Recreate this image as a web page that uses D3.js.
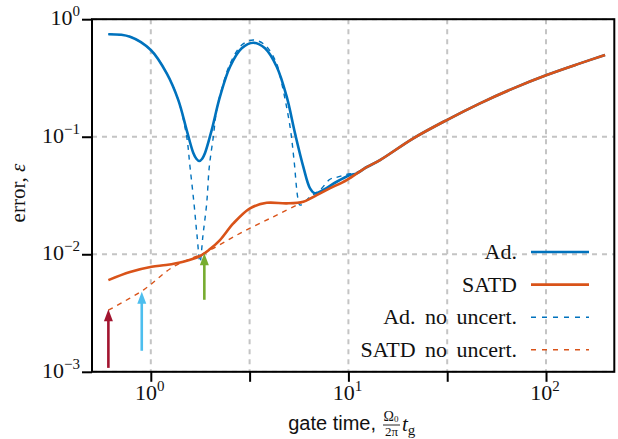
<!DOCTYPE html>
<html>
<head>
<meta charset="utf-8">
<script src="https://cdn.jsdelivr.net/npm/d3@7"></script>
<style>
  body { margin: 0; background: #fff; }
  svg { display: block; }
</style>
</head>
<body>
<div id="chart"></div>
<script>
// values (log-log axes)
const tailTime  = [14.45, 21.3, 31.45, 46.35, 68.3, 100.8, 148.6, 198.9];
const tailError = [0.0633, 0.0969, 0.1387, 0.1924, 0.258, 0.335, 0.421, 0.496];

const adTime  = [0.61, 0.785, 1.0, 1.204, 1.378, 1.519, 1.641, 1.70, 1.76, 1.82, 1.881, 2.033, 2.239, 2.517, 2.884, 3.302, 3.784, 4.337, 4.872, 5.368, 5.913, 6.395, 6.776, 7.464, 8.727, 10.19, 11.02, 12.13];
const adError = [0.744, 0.710, 0.547, 0.346, 0.205, 0.114, 0.0727, 0.0650, 0.0621, 0.0650, 0.0727, 0.114, 0.219, 0.394, 0.565, 0.631, 0.565, 0.394, 0.219, 0.1069, 0.0555, 0.0364, 0.033, 0.0352, 0.0414, 0.0472, 0.0488, 0.0540];

const satdTime  = [0.61, 0.785, 1.01, 1.194, 1.46, 1.774, 1.993, 2.239, 2.616, 3.177, 3.86, 4.872, 5.913, 6.913, 8.0, 9.8, 12.13];
const satdError = [0.00603, 0.00706, 0.00783, 0.00809, 0.00863, 0.00966, 0.01107, 0.0132, 0.0183, 0.0246, 0.0274, 0.0271, 0.028, 0.0319, 0.0362, 0.0428, 0.0540];

const adNoTime  = [0.61, 0.785, 1.0, 1.204, 1.378, 1.519, 1.579, 1.654, 1.713, 1.774, 1.837, 1.918, 1.977, 2.072, 2.155, 2.293, 2.517, 2.884, 3.302, 3.784, 4.301, 4.597, 5.065, 5.306, 5.55, 5.689, 6.395, 7.183, 8.07, 8.654, 9.80, 11.02, 12.13];
const adNoError = [0.744, 0.710, 0.547, 0.346, 0.205, 0.1, 0.0555, 0.0271, 0.01457, 0.00858, 0.01457, 0.0271, 0.0555, 0.1, 0.1688, 0.26, 0.4156, 0.603, 0.665, 0.603, 0.432, 0.2847, 0.1217, 0.0633, 0.030, 0.0262, 0.0307, 0.0352, 0.0435, 0.0450, 0.0478, 0.0496, 0.0550];

const satdNoTime  = [0.61, 0.916, 1.3, 1.918, 2.828, 4.169, 5.689, 6.913, 8.0, 9.8, 12.13];
const satdNoError = [0.00335, 0.00496, 0.00783, 0.0105, 0.01506, 0.02085, 0.0271, 0.0319, 0.0362, 0.0428, 0.0540];

// arrows marking chosen gate times
const arrowTime  = [0.61, 0.90, 1.866];
const arrowTip   = [0.0034, 0.0048, 0.0102];
const arrowBase  = [0.00108, 0.00151, 0.0041];
const arrowColor = ["#a2142f", "#4dbeee", "#77ac30"];

const xTicks = [1, 3.1623, 10, 31.623, 100];
const xLabelTicks = [1, 10, 100];
const xLabelExp = ["0", "1", "2"];
const yTicks = [0.001, 0.01, 0.1, 1];
const yLabelExp = ["\u22123", "\u22122", "\u22121", "0"];

const legendNames = ["Ad.", "SATD", "Ad. no uncert.", "SATD no uncert."];

const blue = "#0072bd", orange = "#d95319";

const W = 618, H = 439;
const svg = d3.select("#chart").append("svg")
  .attr("width", W).attr("height", H)
  .style("background", "#fff");

const x = d3.scaleLog().domain([0.504, 221.6]).range([92, 614.3]);
const y = d3.scaleLog().domain([1e-3, 1]).range([371.8, 19.2]);

// grid
const grid = svg.append("g").attr("stroke", "#c4c4c4").attr("stroke-width", 2)
  .attr("stroke-dasharray", "5,5");
grid.selectAll("line.v").data(xTicks).enter().append("line")
  .attr("x1", d => x(d)).attr("x2", d => x(d))
  .attr("y1", y(1)).attr("y2", y(1e-3));
grid.selectAll("line.h").data(yTicks).enter().append("line")
  .attr("y1", d => y(d)).attr("y2", d => y(d))
  .attr("x1", x.range()[0]).attr("x2", x.range()[1]);

// axes (ticks only, labels done by hand for the superscripts)
svg.append("g").attr("transform", "translate(0," + y(1e-3) + ")")
  .call(d3.axisBottom(x).tickValues(xTicks).tickSize(10).tickSizeOuter(0).tickFormat(""))
  .call(g => g.select(".domain").remove())
  .call(g => g.selectAll("line").attr("stroke-width", 2));
svg.append("g").attr("transform", "translate(" + x.range()[0] + ",0)")
  .call(d3.axisLeft(y).tickValues(yTicks).tickSize(10).tickSizeOuter(0).tickFormat(""))
  .call(g => g.select(".domain").remove())
  .call(g => g.selectAll("line").attr("stroke-width", 2));

const serif = "'Liberation Serif', 'Times New Roman', serif";

const xl = svg.append("g").attr("font-family", serif).attr("fill", "#111");
xLabelTicks.forEach((v, i) => {
  const t = xl.append("text").attr("x", x(v) - 1).attr("y", 400)
    .attr("text-anchor", "middle").attr("font-size", 22);
  t.append("tspan").text("10");
  t.append("tspan").attr("dy", -9).attr("font-size", 15).text(xLabelExp[i]);
});
yTicks.forEach((v, i) => {
  const t = xl.append("text").attr("x", 80).attr("y", y(v) + 6)
    .attr("text-anchor", "end").attr("font-size", 22);
  t.append("tspan").text("10");
  t.append("tspan").attr("dy", -9).attr("font-size", 15).text(yLabelExp[i]);
});

// curves
const line = d3.line().x(d => x(d[0])).y(d => y(d[1])).curve(d3.curveCatmullRom.alpha(0.5));
const zipSeries = (ts, es) => d3.zip(ts.concat(tailTime), es.concat(tailError));

const series = [
  {pts: zipSeries(satdNoTime, satdNoError), color: orange, w: 1.4, dash: "5,5"},
  {pts: zipSeries(adNoTime, adNoError), color: blue, w: 1.4, dash: "5,5"},
  {pts: zipSeries(adTime, adError), color: blue, w: 2.6, dash: null},
  {pts: zipSeries(satdTime, satdError), color: orange, w: 2.6, dash: null}
];
svg.append("g").selectAll("path").data(series).enter().append("path")
  .attr("d", d => line(d.pts))
  .attr("fill", "none")
  .attr("stroke", d => d.color)
  .attr("stroke-width", d => d.w)
  .attr("stroke-dasharray", d => d.dash);

// arrows
const arrows = svg.append("g");
arrowTime.forEach((t, i) => {
  const ax = x(t), tip = y(arrowTip[i]), base = y(arrowBase[i]);
  arrows.append("line").attr("x1", ax).attr("x2", ax)
    .attr("y1", base).attr("y2", tip + 10)
    .attr("stroke", arrowColor[i]).attr("stroke-width", 2.6);
  arrows.append("path")
    .attr("d", `M${ax},${tip} L${ax - 4.5},${tip + 12} L${ax + 4.5},${tip + 12} Z`)
    .attr("fill", arrowColor[i]);
});

// frame
svg.append("rect")
  .attr("x", x.range()[0]).attr("y", y(1))
  .attr("width", x.range()[1] - x.range()[0]).attr("height", y(1e-3) - y(1))
  .attr("fill", "none").attr("stroke", "#000").attr("stroke-width", 2);

// legend
const legendStyle = [
  {color: blue, w: 2.6, dash: null},
  {color: orange, w: 2.6, dash: null},
  {color: blue, w: 1.4, dash: "5,6"},
  {color: orange, w: 1.4, dash: "5,6"}
];
const leg = svg.append("g").attr("font-family", serif).attr("font-size", 22).attr("fill", "#111");
legendNames.forEach((name, i) => {
  const cy = 252 + i * 32.6;
  leg.append("text").attr("x", 517).attr("y", cy + 7)
    .attr("text-anchor", "end").attr("word-spacing", 4).text(name);
  leg.append("line").attr("x1", 531).attr("x2", 589).attr("y1", cy).attr("y2", cy)
    .attr("stroke", legendStyle[i].color).attr("stroke-width", legendStyle[i].w)
    .attr("stroke-dasharray", legendStyle[i].dash);
});

// axis titles
svg.append("text")
  .attr("transform", "translate(25,193) rotate(-90)")
  .attr("text-anchor", "middle")
  .attr("font-family", serif).attr("font-size", 21).attr("fill", "#111")
  .html("error, <tspan font-style='italic'>\u03b5</tspan>");

const xt = svg.append("g").attr("fill", "#111");
xt.append("text").attr("x", 376).attr("y", 430).attr("text-anchor", "end")
  .attr("font-family", "'Liberation Sans', Arial, sans-serif").attr("font-size", 20)
  .text("gate time,");
const fr = xt.append("g").attr("font-family", serif);
fr.append("text").attr("x", 391).attr("y", 420.5).attr("text-anchor", "middle").attr("font-size", 14)
  .html("\u03a9<tspan font-size='9' dy='1'>0</tspan>");
fr.append("line").attr("x1", 383).attr("x2", 400).attr("y1", 425).attr("y2", 425)
  .attr("stroke", "#111").attr("stroke-width", 0.9);
fr.append("text").attr("x", 391.5).attr("y", 436).attr("text-anchor", "middle").attr("font-size", 13)
  .text("2\u03c0");
fr.append("text").attr("x", 402).attr("y", 431).attr("font-size", 21)
  .html("<tspan font-style='italic'>t</tspan><tspan font-size='15' dy='4'>g</tspan>");
</script>
</body>
</html>
